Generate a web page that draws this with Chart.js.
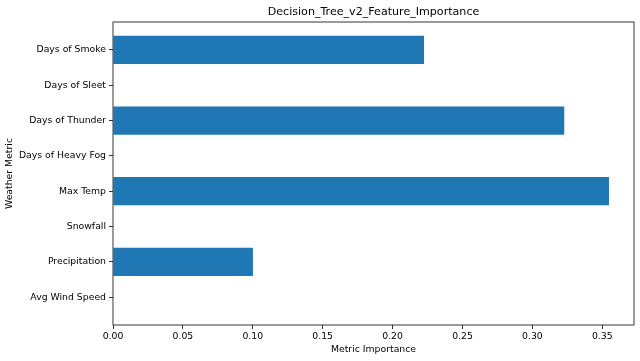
<!DOCTYPE html>
<html>
<head>
<meta charset="utf-8">
<script src="https://cdn.jsdelivr.net/npm/chart.js@4"></script>
<style>
    html, body { margin: 0; padding: 0; background: #fff; }
    #wrap { width: 640px; height: 361px; }
</style>
</head>
<body>
<div id="wrap"><canvas id="myChart"></canvas></div>
<script>
// bottom to top, as in the reference
const metrics = ['Avg Wind Speed', 'Precipitation', 'Snowfall', 'Max Temp',
    'Days of Heavy Fog', 'Days of Thunder', 'Days of Sleet', 'Days of Smoke'];
const importance = [0, 0.1001, 0, 0.3548, 0, 0.3228, 0, 0.2225];
const xTicks = [0, 0.05, 0.10, 0.15, 0.20, 0.25, 0.30, 0.35];
const chartTitle = 'Decision_Tree_v2_Feature_Importance';

const fontFamily = '"DejaVu Sans", sans-serif';
const labelSize = 9.3;

// matplotlib style frame + title centred on the axes
const framePlugin = {
    id: 'frame',
    afterDraw(chart) {
        const { ctx, chartArea: a } = chart;
        ctx.save();
        ctx.strokeStyle = '#222';
        ctx.lineWidth = 0.9;
        ctx.strokeRect(a.left, a.top, a.right - a.left, a.bottom - a.top);
        ctx.fillStyle = '#000';
        ctx.font = '11.1px ' + fontFamily;
        ctx.textAlign = 'center';
        ctx.textBaseline = 'middle';
        ctx.fillText(chartTitle, (a.left + a.right) / 2, 12);
        ctx.restore();
    }
};

const ctx = document.getElementById('myChart').getContext('2d');
const myChart = new Chart(ctx, {
    type: 'bar',
    data: {
        datasets: [{
            label: 'Metric Importance',
            data: importance.map((v, i) => ({ x: v, y: i })),
            backgroundColor: '#1f77b4',
            borderWidth: 0,
            categoryPercentage: 1,
            barPercentage: 0.8
        }]
    },
    options: {
        indexAxis: 'y',
        responsive: true,
        maintainAspectRatio: false,
        animation: false,
        layout: { padding: { top: 22, right: 6, left: 0, bottom: 0 } },
        plugins: {
            legend: { display: false },
            tooltip: { enabled: false }
        },
        scales: {
            x: {
                type: 'linear',
                min: 0,
                max: 0.3727,
                afterBuildTicks: axis => { axis.ticks = xTicks.map(v => ({ value: v })); },
                afterFit: axis => { axis.height = 36; },
                ticks: {
                    color: '#000',
                    font: { family: fontFamily, size: labelSize },
                    padding: 2,
                    maxRotation: 0,
                    callback: v => v.toFixed(2)
                },
                grid: { drawOnChartArea: false, tickLength: 4, color: '#000', lineWidth: 0.8 },
                border: { display: false },
                title: {
                    display: true,
                    text: 'Metric Importance',
                    color: '#000',
                    font: { family: fontFamily, size: labelSize },
                    padding: { top: 2, bottom: 6 }
                }
            },
            y: {
                type: 'linear',
                min: -0.79,
                max: 7.79,
                offset: false,
                afterBuildTicks: axis => { axis.ticks = metrics.map((_, i) => ({ value: i })); },
                afterFit: axis => { axis.width = 113; },
                ticks: {
                    color: '#000',
                    font: { family: fontFamily, size: labelSize },
                    padding: 3,
                    callback: v => metrics[v]
                },
                grid: { offset: false, drawOnChartArea: false, tickLength: 4, color: '#000', lineWidth: 0.8 },
                border: { display: false },
                title: {
                    display: true,
                    text: 'Weather Metric',
                    color: '#000',
                    font: { family: fontFamily, size: labelSize },
                    padding: { top: 4, bottom: 4 }
                }
            }
        }
    },
    plugins: [framePlugin]
});
</script>
</body>
</html>
